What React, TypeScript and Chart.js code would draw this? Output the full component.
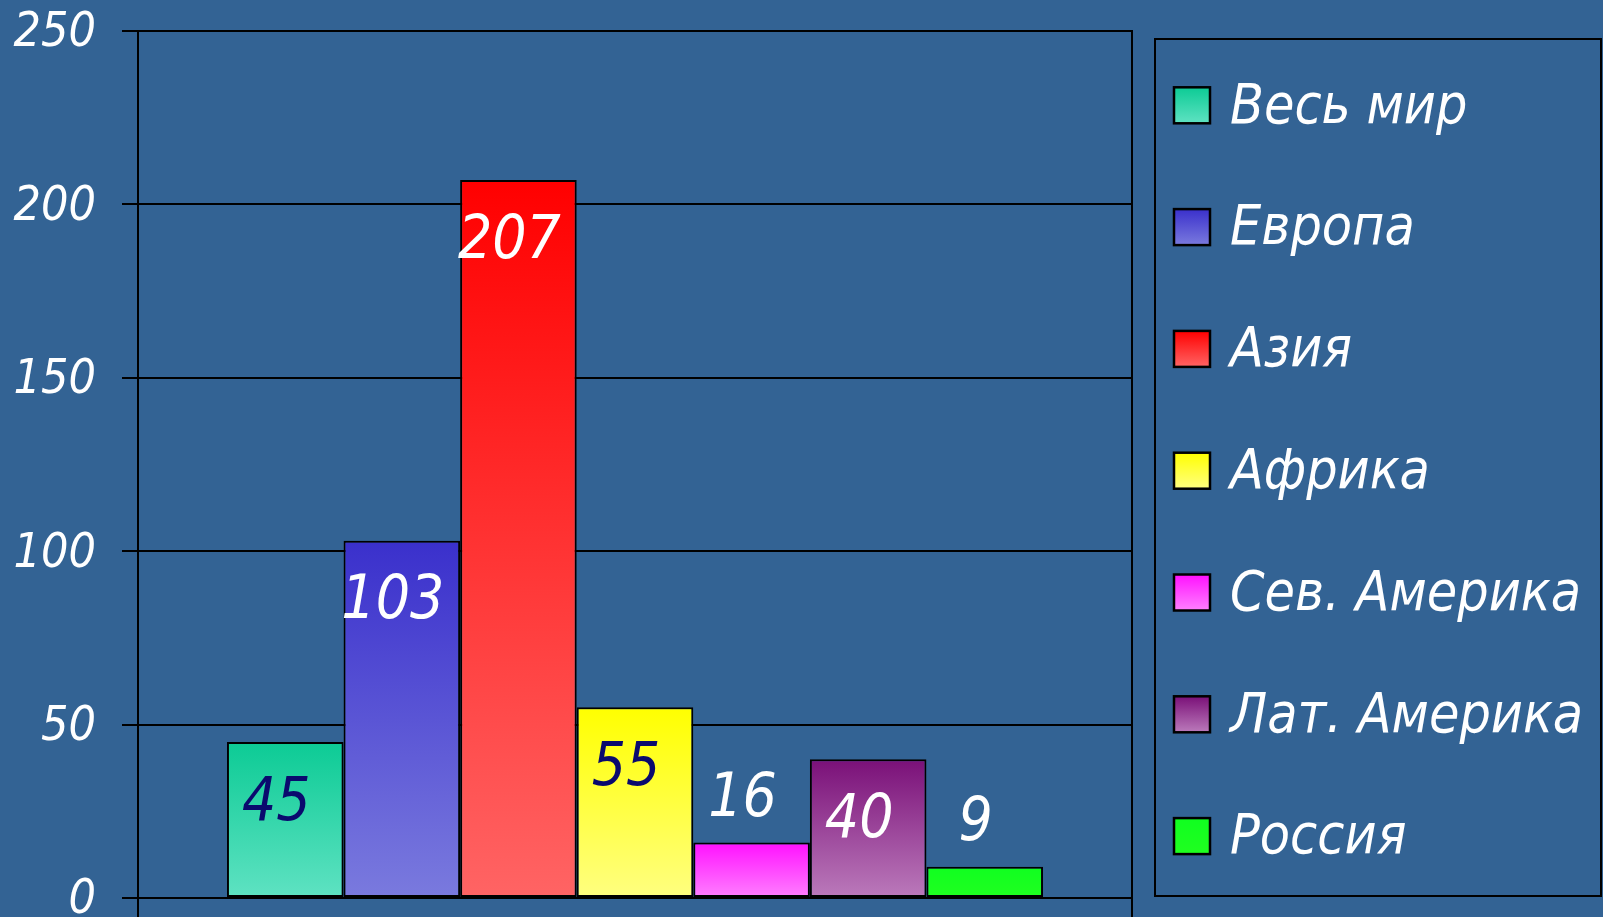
import React, { useEffect, useRef } from 'react';
import { Chart, registerables } from 'chart.js';

Chart.register(...registerables);

const categories = [''];
const seriesNames = ['Весь мир', 'Европа', 'Азия', 'Африка', 'Сев. Америка', 'Лат. Америка', 'Россия'];
const seriesValues = [45, 103, 207, 55, 16, 40, 9];
const yTickValues = [0, 50, 100, 150, 200, 250];
const gradientTop = ['#0ccb95', '#3a30cc', '#ff0000', '#ffff00', '#ff10ff', '#7a1078', '#10ff20'];
const gradientBottom = ['#5fe2c2', '#7a7ade', '#ff6464', '#ffff80', '#ff80ff', '#bb7abb', '#20ff20'];
const labelColors = ['#0a0a6e', '#ffffff', '#ffffff', '#0a0a6e', '#ffffff', '#ffffff', '#ffffff'];

const FONT = "'DejaVu Sans Condensed', 'DejaVu Sans', sans-serif";
const BG = '#336394';

const decorPlugin = {
  id: 'decor',
  afterDatasetsDraw(chart: any) {
    const { ctx, chartArea } = chart;
    ctx.save();
    ctx.strokeStyle = '#000';
    ctx.lineWidth = 2;
    ctx.beginPath();
    ctx.moveTo(chartArea.right, chartArea.top - 1);
    ctx.lineTo(chartArea.right, chart.height);
    ctx.moveTo(chartArea.left, chartArea.bottom);
    ctx.lineTo(chartArea.left, chart.height);
    ctx.stroke();

    // data labels
    ctx.font = `italic 60px ${FONT}`;
    ctx.textAlign = 'center';
    ctx.textBaseline = 'middle';
    chart.data.datasets.forEach((ds: any, i: number) => {
      const meta = chart.getDatasetMeta(i);
      const bar = meta.data[0];
      const v = ds.data[0];
      const inside = v >= 30;
      const y = inside ? bar.y + 62 : bar.y - 42;
      ctx.fillStyle = labelColors[i];
      ctx.fillText(String(v), bar.x - 9, y);
    });

    // legend
    const lx = chartArea.right + 23;
    const ly = 39;
    const lw = chart.width - 2 - lx;
    const lh = 857;
    ctx.lineWidth = 2;
    ctx.strokeStyle = '#000';
    ctx.strokeRect(lx, ly, lw, lh);
    const step = 121.8;
    const firstY = 105.3;
    ctx.font = `italic 55px ${FONT}`;
    ctx.textAlign = 'left';
    ctx.textBaseline = 'middle';
    chart.data.datasets.forEach((ds: any, i: number) => {
      const cy = firstY + i * step;
      const bx = lx + 19;
      const size = 36;
      const g = ctx.createLinearGradient(0, cy - size / 2, 0, cy + size / 2);
      g.addColorStop(0, gradientTop[i]);
      g.addColorStop(1, gradientBottom[i]);
      ctx.fillStyle = g;
      ctx.fillRect(bx, cy - size / 2, size, size);
      ctx.lineWidth = 2.5;
      ctx.strokeRect(bx, cy - size / 2, size, size);
      ctx.fillStyle = '#ffffff';
      ctx.fillText(ds.label, bx + 56, cy + 3);
    });
    ctx.restore();
  },
};

export default function App() {
  const ref = useRef<HTMLCanvasElement>(null);
  useEffect(() => {
    if (!ref.current) return;
    const datasets = seriesNames.map((name, i) => ({
      label: name,
      data: [seriesValues[i]],
      borderColor: '#000000',
      borderWidth: 2,
      borderSkipped: false,
      backgroundColor: (c: any) => {
        const chart = c.chart;
        if (!chart.chartArea || !chart.scales.y) return gradientTop[i];
        const ys = chart.scales.y;
        const g = chart.ctx.createLinearGradient(0, ys.getPixelForValue(seriesValues[i]), 0, ys.getPixelForValue(0));
        g.addColorStop(0, gradientTop[i]);
        g.addColorStop(1, gradientBottom[i]);
        return g;
      },
      categoryPercentage: 0.821,
      barPercentage: 1,
    }));
    const chart = new Chart(ref.current, {
      type: 'bar',
      data: { labels: categories, datasets },
      plugins: [decorPlugin],
      options: {
        animation: false,
        responsive: false,
        layout: { padding: { top: 31, right: 471, bottom: 19, left: 0 } },
        plugins: { legend: { display: false }, tooltip: { enabled: false } },
        scales: {
          x: { display: false },
          y: {
            min: 0,
            max: 250,
            afterBuildTicks: (scale: any) => {
              scale.ticks = yTickValues.map((v) => ({ value: v }));
            },
            afterFit: (scale: any) => {
              scale.width = 138;
              scale.paddingTop = 0;
              scale.paddingBottom = 0;
            },
            border: { display: true, color: '#000', width: 2 },
            grid: { color: '#000', lineWidth: 2, tickLength: 16, drawTicks: true },
            ticks: {
              color: '#ffffff',
              padding: 26,
              labelOffset: 3,
              font: { family: FONT, size: 48, style: 'italic' },
            },
          },
        },
      },
    });
    return () => chart.destroy();
  }, []);
  return (
    <div style={{ position: 'fixed', left: 0, top: 0, width: 1603, height: 917, background: BG }}>
      <canvas ref={ref} width={1603} height={917} style={{ display: 'block' }} />
    </div>
  );
}
